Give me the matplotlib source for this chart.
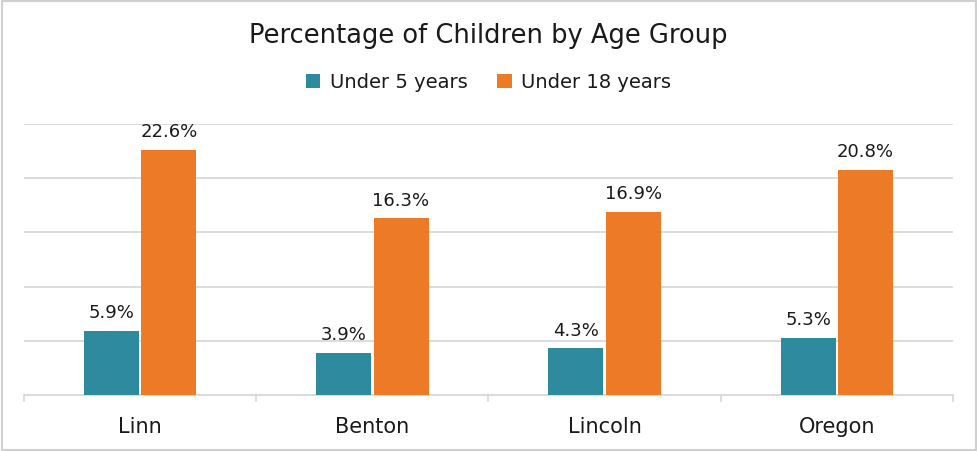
import matplotlib
matplotlib.use('Agg')
import matplotlib.pyplot as plt
import numpy as np
from matplotlib.patches import Rectangle

# Data
counties = ['Linn', 'Benton', 'Lincoln', 'Oregon']
under_5 = [5.9, 3.9, 4.3, 5.3]
under_18 = [22.6, 16.3, 16.9, 20.8]
series_names = ['Under 5 years', 'Under 18 years']

TEAL = '#2E8A9E'
ORANGE = '#ED7A26'
GRID = '#D9D9D9'
TEXT = '#1A1A1A'

plt.rcParams['font.family'] = ['DejaVu Sans']

fig = plt.figure(figsize=(9.77, 4.52), dpi=100)
# plot area in pixels: x 24..953, y 125..396
W, H = 977, 452
ax = fig.add_axes([24 / W, (H - 396) / H, (953 - 24) / W, (396 - 125) / H])

x = np.arange(len(counties))
bw = 0.237
gap = 0.005
b1 = ax.bar(x - bw / 2 - gap, under_5, bw, color=TEAL, label=series_names[0], zorder=3)
b2 = ax.bar(x + bw / 2 + gap, under_18, bw, color=ORANGE, label=series_names[1], zorder=3)

for bars in (b1, b2):
    for rect in bars:
        v = rect.get_height()
        ax.annotate(f'{v:.1f}%', (rect.get_x() + rect.get_width() / 2, v),
                    xytext=(0, 7), textcoords='offset points',
                    ha='center', va='bottom', fontsize=13, color=TEXT)

ax.set_xlim(-0.5, len(counties) - 0.5)
ax.set_ylim(0, 25)
ax.set_yticks(np.arange(0, 26, 5))
ax.yaxis.grid(True, color=GRID, linewidth=1.3, zorder=0)
ax.tick_params(axis='y', left=False, labelleft=False)
for side in ('top', 'right', 'left'):
    ax.spines[side].set_visible(False)
ax.spines['bottom'].set_color(GRID)
ax.spines['bottom'].set_linewidth(1.3)

ax.set_xticks(x)
ax.set_xticklabels(counties, fontsize=15, color=TEXT)
ax.tick_params(axis='x', length=0, pad=15)
# boundary tick marks between categories
ax.set_xticks(np.arange(-0.5, len(counties), 1), minor=True)
ax.tick_params(axis='x', which='minor', length=5, color=GRID, width=1.3)

fig.text(0.5, 1 - 36 / H, 'Percentage of Children by Age Group',
         ha='center', va='center', fontsize=18.5, color=TEXT)
fig.legend(handles=[b1, b2], labels=series_names, loc='center',
           bbox_to_anchor=(0.5, 1 - 83 / H), ncol=2, frameon=False,
           fontsize=14, handlelength=0.75, handleheight=0.75,
           handletextpad=0.5, columnspacing=1.5, labelcolor=TEXT)

# light border around the whole chart
fig.patches.append(Rectangle((1.5 / W, 1.5 / H), 1 - 3 / W, 1 - 3 / H,
                             transform=fig.transFigure, fill=False,
                             edgecolor='#D0D0D0', linewidth=1.5))

fig.savefig('out.png', dpi=100)
